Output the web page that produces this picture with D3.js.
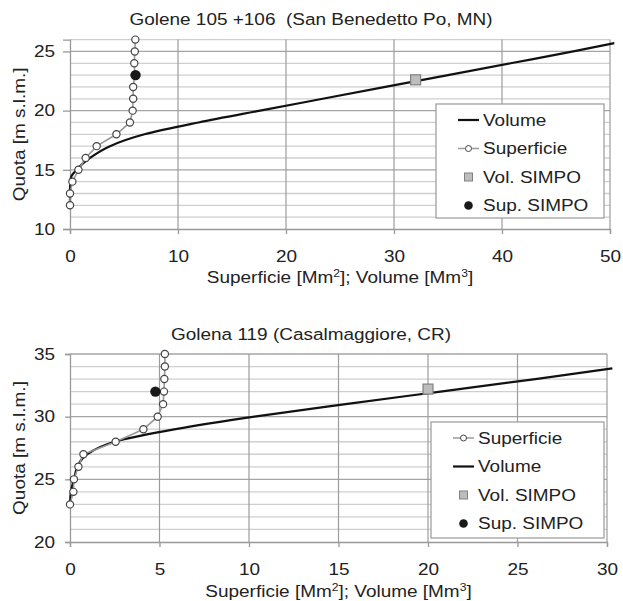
<!DOCTYPE html>
<html>
<head>
<meta charset="utf-8">
<script src="https://cdn.jsdelivr.net/npm/d3@7"></script>
<style>
  body { margin: 0; background: #fff; }
  text { font-family: "Liberation Sans", Arial, sans-serif; fill: #222; }
</style>
</head>
<body>
<div id="chart"></div>
<script>
// --- Golene 105 +106 (San Benedetto Po) ---
const quota1 = [12, 13, 14, 15, 16, 17, 18, 19, 20, 21, 22, 23, 24, 25, 26]
const superficie1 = [0, 0, 0.22, 0.78, 1.45, 2.47, 4.3, 5.55, 5.8, 5.85, 5.85, 6.0, 5.95, 6.0, 6.05]
const volQuota1 = [12, 13, 14, 14.5, 15, 16, 17, 18, 19, 20, 21, 22, 23, 24, 25, 25.7]
const volume1 = [0, 0, 0.02, 0.15, 0.6, 1.85, 3.7, 6.9, 11.9, 17.6, 23.4, 29.2, 35.0, 40.8, 46.6, 50.4]
const simpoVol1 = [32.0, 22.6]   // [volume, quota]
const simpoSup1 = [6.07, 23.0]   // [superficie, quota]
const xTicks1 = [0, 10, 20, 30, 40, 50]
const yTicks1 = [10, 15, 20, 25]
const legend1 = ["Volume", "Superficie", "Vol. SIMPO", "Sup. SIMPO"]

// --- Golena 119 (Casalmaggiore) ---
const quota2 = [23, 24, 25, 26, 27, 28, 29, 30, 31, 32, 33, 34, 35]
const superficie2 = [0, 0.19, 0.22, 0.47, 0.75, 2.55, 4.1, 4.9, 5.2, 5.25, 5.27, 5.3, 5.3]
const volQuota2 = [23, 24, 25, 26, 27, 28, 29, 30, 31, 32, 33, 33.85]
const volume2 = [0, 0.05, 0.22, 0.42, 0.95, 2.5, 5.9, 10.3, 15.4, 20.7, 26.0, 30.3]
const simpoVol2 = [20.0, 32.2]
const simpoSup2 = [4.77, 32.0]
const xTicks2 = [0, 5, 10, 15, 20, 25, 30]
const yTicks2 = [20, 25, 30, 35]
const legend2 = ["Superficie", "Volume", "Vol. SIMPO", "Sup. SIMPO"]

const FS = 16.5      // font size
const SX = 1.15      // the original text is a bit wider than Arial

const svg = d3.select("#chart").append("svg")
  .attr("width", 623).attr("height", 601)

drawPanel({
  title: "Golene 105 +106  (San Benedetto Po, MN)", titleY: 25,
  left: 70, right: 610, top: 39.6, bottom: 229,
  xDomain: [0, 50], yDomain: [10, 26], xTicks: xTicks1, yTicks: yTicks1,
  ytickSize: 7, xlabelY: 283,
  quota: quota1, sup: superficie1, volQuota: volQuota1, vol: volume1,
  simpoVol: simpoVol1, simpoSup: simpoSup1,
  legend: legend1, legendBox: [436, 104, 168, 114]
})

drawPanel({
  title: "Golena 119 (Casalmaggiore, CR)", titleY: 340,
  left: 70, right: 607, top: 354, bottom: 542,
  xDomain: [0, 30], yDomain: [20, 35], xTicks: xTicks2, yTicks: yTicks2,
  ytickSize: 5, xlabelY: 597,
  quota: quota2, sup: superficie2, volQuota: volQuota2, vol: volume2,
  simpoVol: simpoVol2, simpoSup: simpoSup2,
  legend: legend2, legendBox: [431, 422, 173, 116]
})

// text placed at (x,y), stretched horizontally
function label(parent, x, y, rot) {
  return parent.append("text")
    .attr("transform", `translate(${x},${y})` + (rot ? ` rotate(${rot})` : "") + ` scale(${SX},1)`)
    .style("font-size", FS + "px")
}

function drawPanel(c) {
  const x = d3.scaleLinear().domain(c.xDomain).range([c.left, c.right])
  const y = d3.scaleLinear().domain(c.yDomain).range([c.bottom, c.top])
  const g = svg.append("g")

  // horizontal grid, one line per metre (darker every 5)
  g.append("g").selectAll("line")
    .data(d3.range(c.yDomain[0] + 1, c.yDomain[1] + 1))
    .join("line")
      .attr("x1", c.left).attr("x2", c.right)
      .attr("y1", d => y(d)).attr("y2", d => y(d))
      .attr("stroke", d => d % 5 === 0 ? "#a5a5a5" : "#cfcfcf")
      .attr("stroke-width", 1.3)

  // vertical grid
  g.append("g").selectAll("line")
    .data(c.xTicks.slice(1))
    .join("line")
      .attr("x1", d => x(d)).attr("x2", d => x(d))
      .attr("y1", c.top).attr("y2", c.bottom)
      .attr("stroke", "#9c9c9c").attr("stroke-width", 1.2)

  // axes (labels right edge at x=55)
  const ypad = (c.left - 55) / SX - c.ytickSize
  const yAxis = g.append("g")
    .attr("transform", `translate(${c.left},0)`)
    .call(d3.axisLeft(y).tickValues(c.yTicks).tickSize(c.ytickSize).tickPadding(ypad))
  const xAxis = g.append("g")
    .attr("transform", `translate(0,${c.bottom})`)
    .call(d3.axisBottom(x).tickValues(c.xTicks).tickSize(5).tickPadding(16))
  for (const a of [yAxis, xAxis]) {
    a.select(".domain").attr("stroke", "#999").attr("stroke-width", 1.3)
    a.selectAll(".tick line").attr("stroke", "#999").attr("stroke-width", 1.3)
    a.selectAll(".tick text")
      .attr("transform", `scale(${SX},1)`)
      .style("font-size", FS + "px").attr("fill", "#222")
      .style("font-family", '"Liberation Sans", Arial, sans-serif')
  }

  // title + axis labels
  label(g, 311, c.titleY)
    .attr("text-anchor", "middle").style("white-space", "pre")
    .text(c.title)

  const xl = label(g, (c.left + c.right) / 2, c.xlabelY).attr("text-anchor", "middle")
  xl.append("tspan").text("Superficie [Mm")
  xl.append("tspan").attr("dy", -6).style("font-size", "10.5px").text("2")
  xl.append("tspan").attr("dy", 6).text("]; Volume [Mm")
  xl.append("tspan").attr("dy", -6).style("font-size", "10.5px").text("3")
  xl.append("tspan").attr("dy", 6).text("]")

  label(g, 25, (c.top + c.bottom) / 2, -90)
    .attr("text-anchor", "middle")
    .text("Quota [m s.l.m.]")

  // volume curve
  const volPts = c.volQuota.map((q, i) => [c.vol[i], q])
  g.append("path")
    .datum(volPts)
    .attr("fill", "none").attr("stroke", "#111").attr("stroke-width", 2.2)
    .attr("d", d3.line().x(d => x(d[0])).y(d => y(d[1])).curve(d3.curveMonotoneY))

  // superficie line + circles
  const supPts = c.quota.map((q, i) => [c.sup[i], q])
  g.append("path")
    .datum(supPts)
    .attr("fill", "none").attr("stroke", "#9a9a9a").attr("stroke-width", 1.6)
    .attr("d", d3.line().x(d => x(d[0])).y(d => y(d[1])))
  g.append("g").selectAll("circle")
    .data(supPts)
    .join("circle")
      .attr("cx", d => x(d[0])).attr("cy", d => y(d[1])).attr("r", 3.6)
      .attr("fill", "#fff").attr("stroke", "#444").attr("stroke-width", 1.2)

  // SIMPO markers
  g.append("rect")
    .attr("x", x(c.simpoVol[0]) - 5).attr("y", y(c.simpoVol[1]) - 5)
    .attr("width", 10).attr("height", 10)
    .attr("fill", "#bdbdbd").attr("stroke", "#808080").attr("stroke-width", 1.2)
  g.append("circle")
    .attr("cx", x(c.simpoSup[0])).attr("cy", y(c.simpoSup[1])).attr("r", 5.2)
    .attr("fill", "#1a1a1a")

  // legend
  const [lx, ly, lw, lh] = c.legendBox
  const lg = g.append("g")
  lg.append("rect")
    .attr("x", lx).attr("y", ly).attr("width", lw).attr("height", lh)
    .attr("fill", "#fff").attr("stroke", "#999").attr("stroke-width", 1.2)
  const row = lg.selectAll("g.item")
    .data(c.legend)
    .join("g").attr("class", "item")
    .attr("transform", (d, i) => `translate(${lx + 22},${ly + 16 + i * 28.5})`)
  row.each(function(name) {
    const s = d3.select(this)
    if (name === "Volume") {
      s.append("line").attr("x1", 0).attr("x2", 21).attr("stroke", "#111").attr("stroke-width", 2.2)
    } else if (name === "Superficie") {
      s.append("line").attr("x1", 0).attr("x2", 21).attr("stroke", "#9a9a9a").attr("stroke-width", 1.5)
      s.append("circle").attr("cx", 10.5).attr("r", 3).attr("fill", "#fff").attr("stroke", "#444")
    } else if (name === "Vol. SIMPO") {
      s.append("rect").attr("x", 6.5).attr("y", -4).attr("width", 8).attr("height", 8)
        .attr("fill", "#bdbdbd").attr("stroke", "#808080")
    } else {
      s.append("circle").attr("cx", 10.5).attr("r", 4.3).attr("fill", "#1a1a1a")
    }
    label(s, 25, 0).attr("dy", "0.36em").text(name)
  })
}
</script>
</body>
</html>
